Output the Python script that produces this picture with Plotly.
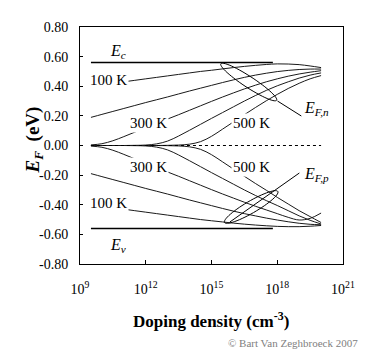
import plotly.graph_objects as go
import numpy as np

# ---------------- data ----------------
log_doping = [9.5, 10, 10.5, 11, 11.5, 12, 12.5, 13, 13.5, 14, 14.5, 15,
              15.5, 16, 16.5, 17, 17.5, 18, 18.5, 19, 19.5, 20]

ef_n_100K = [0.40, 0.41, 0.42, 0.43, 0.44, 0.45, 0.46, 0.47, 0.48, 0.49, 0.50, 0.508,
             0.517, 0.526, 0.534, 0.541, 0.547, 0.551, 0.550, 0.546, 0.537, 0.526]
ef_n_200K = [0.19, 0.21, 0.23, 0.25, 0.27, 0.29, 0.309, 0.328, 0.348, 0.368, 0.387, 0.406,
             0.425, 0.443, 0.460, 0.475, 0.488, 0.499, 0.507, 0.513, 0.516, 0.516]
ef_n_300K = [0.004, 0.012, 0.032, 0.060, 0.090, 0.119, 0.149, 0.179, 0.208, 0.238, 0.268, 0.298,
             0.327, 0.355, 0.382, 0.407, 0.430, 0.450, 0.468, 0.483, 0.495, 0.505]
ef_n_400K = [0.0, 0.0, 0.0, 0.0, 0.001, 0.003, 0.011, 0.030, 0.064, 0.103, 0.143, 0.183,
             0.222, 0.261, 0.300, 0.337, 0.372, 0.403, 0.430, 0.455, 0.475, 0.490]
ef_n_500K = [0.0, 0.0, 0.0, 0.0, 0.0, 0.0, 0.0, 0.001, 0.003, 0.009, 0.026, 0.062,
             0.110, 0.159, 0.208, 0.256, 0.302, 0.345, 0.385, 0.420, 0.450, 0.472]

ef_p_100K = [-0.40, -0.41, -0.42, -0.43, -0.44, -0.45, -0.46, -0.47, -0.48, -0.49, -0.50, -0.508,
             -0.516, -0.524, -0.531, -0.537, -0.542, -0.546, -0.548, -0.548, -0.545, -0.540]
ef_p_200K = [-0.19, -0.21, -0.23, -0.25, -0.27, -0.29, -0.309, -0.328, -0.348, -0.368, -0.387, -0.406,
             -0.425, -0.443, -0.460, -0.475, -0.490, -0.503, -0.515, -0.525, -0.532, -0.535]
ef_p_300K = [-0.004, -0.012, -0.032, -0.060, -0.090, -0.119, -0.149, -0.179, -0.208, -0.238, -0.268, -0.298,
             -0.327, -0.355, -0.383, -0.410, -0.435, -0.460, -0.485, -0.503, -0.492, -0.456]
ef_p_400K = [0.0, 0.0, 0.0, 0.0, -0.001, -0.003, -0.011, -0.030, -0.064, -0.103, -0.143, -0.183,
             -0.222, -0.261, -0.300, -0.337, -0.372, -0.405, -0.440, -0.475, -0.505, -0.530]
ef_p_500K = [0.0, 0.0, 0.0, 0.0, 0.0, 0.0, 0.0, -0.001, -0.003, -0.009, -0.026, -0.062,
             -0.110, -0.159, -0.208, -0.256, -0.302, -0.350, -0.395, -0.440, -0.480, -0.520]

band_log_doping = [9.5, 17.8]
ec_values = [0.56, 0.56]
ev_values = [-0.56, -0.56]
midgap_log_doping = [9.5, 20.0]
midgap_values = [0.0, 0.0]

x_tick_exponents = [9, 12, 15, 18, 21]
x_tick_labels = ["10<sup>9</sup>", "10<sup>12</sup>", "10<sup>15</sup>", "10<sup>18</sup>", "10<sup>21</sup>"]
y_tick_values = [0.8, 0.6, 0.4, 0.2, 0.0, -0.2, -0.4, -0.6, -0.8]
y_tick_labels = ["0.80", "0.60", "0.40", "0.20", "0.00", "-0.20", "-0.40", "-0.60", "-0.80"]

# ---------------- figure ----------------
OFF = 8                      # page body margin
W, H = 367 - OFF, 355 - OFF
ML, MR, MT, MB = 80 - OFF, 22, 27 - OFF, 91
PW, PH = W - ML - MR, H - MT - MB

def px2paper(px, py):
    """page pixel position -> paper coordinates"""
    fx, fy = px - OFF, py - OFF
    return (fx - ML) / PW, (H - MB - fy) / PH

def dens(v):
    return [10.0 ** float(e) for e in v]

N = dens(log_doping)
fig = go.Figure()

curve_line = dict(color="#1a1a1a", width=1)
for ys in [ef_n_100K, ef_n_200K, ef_n_300K, ef_n_400K, ef_n_500K,
           ef_p_100K, ef_p_200K, ef_p_300K, ef_p_400K, ef_p_500K]:
    fig.add_trace(go.Scatter(x=N, y=ys, mode="lines", line=curve_line,
                             line_shape="spline", hoverinfo="skip", showlegend=False))

band_N = dens(band_log_doping)
fig.add_trace(go.Scatter(x=band_N, y=ec_values, mode="lines",
                         line=dict(color="black", width=1.4), showlegend=False))
fig.add_trace(go.Scatter(x=band_N, y=ev_values, mode="lines",
                         line=dict(color="black", width=1.4), showlegend=False))
fig.add_trace(go.Scatter(x=dens(midgap_log_doping), y=midgap_values, mode="lines",
                         line=dict(color="black", width=1, dash="3px,3px"), showlegend=False))

# ellipses + leader lines (decoration, in paper coordinates)
def ellipse_path(cx, cy, a, b, ang_deg, n=60):
    t = np.linspace(0, 2 * np.pi, n)
    ang = np.deg2rad(ang_deg)
    xs = cx + a * np.cos(t) * np.cos(ang) - b * np.sin(t) * np.sin(ang)
    ys = cy + a * np.cos(t) * np.sin(ang) + b * np.sin(t) * np.cos(ang)
    pts = [px2paper(x, y) for x, y in zip(xs, ys)]
    return "M " + " L ".join(f"{p[0]:.4f},{p[1]:.4f}" for p in pts) + " Z"

shapes = [
    dict(type="path", xref="paper", yref="paper", path=ellipse_path(250, 82, 33.5, 5.5, 33),
         line=dict(color="black", width=1)),
    dict(type="path", xref="paper", yref="paper", path=ellipse_path(252.5, 207, 31, 6, -30),
         line=dict(color="black", width=1)),
]
for (x0, y0, x1, y1) in [(303, 116, 279, 101), (301, 173, 231, 222)]:
    a0 = px2paper(x0, y0); a1 = px2paper(x1, y1)
    shapes.append(dict(type="line", xref="paper", yref="paper", x0=a0[0], y0=a0[1], x1=a1[0], y1=a1[1],
                       line=dict(color="black", width=1)))

serif = "Liberation Serif, Times New Roman, serif"
annotations = []
def label(text, px, py, size=15, bg=None, color="black", xanchor="center"):
    x, y = px2paper(px, py)
    d = dict(text=text, x=x, y=y, xref="paper", yref="paper", showarrow=False,
             font=dict(family=serif, size=size, color=color), xanchor=xanchor, yanchor="middle")
    if bg:
        d.update(bgcolor=bg, borderpad=1)
    annotations.append(d)

label("<i>E<sub>c</sub></i>", 118, 51, size=16)
label("<i>E<sub>v</sub></i>", 118, 245, size=16)
label("100 K", 109, 80, bg="white")
label("300 K", 149, 123, bg="white")
label("500 K", 253, 123, bg="white")
label("300 K", 149, 167, bg="white")
label("500 K", 253, 167, bg="white")
label("100 K", 109, 203, bg="white")
label("<i>E<sub>F,n</sub></i>", 304, 108, size=16, xanchor="left")
label("<i>E<sub>F,p</sub></i>", 304, 174, size=16, xanchor="left")
label("<b>Doping density (cm<sup>-3</sup>)</b>", 212, 320, size=17)
label("© Bart Van Zeghbroeck 2007", 362, 343, size=11, color="#808080", xanchor="right")
xt, yt = px2paper(20, 140)
annotations.append(dict(text="<b><i>E<sub>F</sub></i>  (eV)</b>", x=xt, y=yt, xref="paper", yref="paper",
                        showarrow=False, textangle=-90,
                        font=dict(family=serif, size=19, color="black")))

fig.update_layout(
    width=W, height=H, margin=dict(l=ML, r=MR, t=MT, b=MB),
    paper_bgcolor="white", plot_bgcolor="white",
    shapes=shapes, annotations=annotations, showlegend=False,
    font=dict(family=serif, size=14, color="black"),
)
fig.update_xaxes(type="log", range=[9, 21], tickvals=dens(x_tick_exponents),
                 ticktext=x_tick_labels, showgrid=False, zeroline=False,
                 showline=True, linecolor="black", linewidth=1, mirror=True,
                 ticks="inside", ticklen=4, tickcolor="black", ticklabelstandoff=12,
                 tickfont=dict(family=serif, size=14))
fig.update_yaxes(range=[-0.8, 0.8], tickvals=y_tick_values, ticktext=y_tick_labels,
                 showgrid=False, zeroline=False,
                 showline=True, linecolor="black", linewidth=1, mirror=True,
                 ticks="inside", ticklen=3, tickcolor="black", ticklabelstandoff=8,
                 tickfont=dict(family=serif, size=14))

fig.write_html("out.html")
